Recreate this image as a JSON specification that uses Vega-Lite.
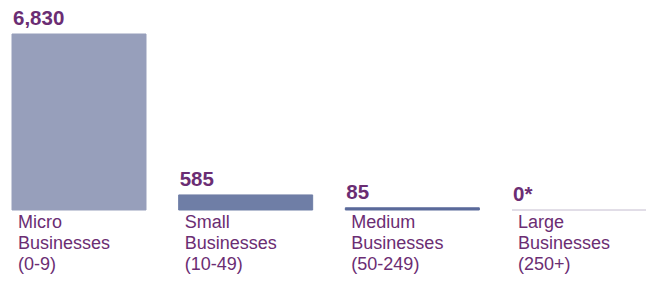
{
  "$schema": "https://vega.github.io/schema/vega-lite/v6.json",
  "width": 634,
  "height": 176,
  "autosize": "none",
  "padding": {"left": 12, "top": 34, "right": 8, "bottom": 71},
  "background": "white",
  "config": {"view": {"stroke": null}, "font": "Liberation Sans"},
  "data": {
    "values": [
      {"cat": "Micro", "value": 6830, "vlabel": "6,830", "label": "Micro\nBusinesses\n(0-9)"},
      {"cat": "Small", "value": 585, "vlabel": "585", "label": "Small\nBusinesses\n(10-49)"},
      {"cat": "Medium", "value": 85, "vlabel": "85", "label": "Medium\nBusinesses\n(50-249)"},
      {"cat": "Large", "value": 0, "vlabel": "0*", "label": "Large\nBusinesses\n(250+)"}
    ]
  },
  "encoding": {
    "x": {"field": "cat", "type": "nominal", "sort": null,
      "scale": {"paddingInner": 0.196, "paddingOuter": 0}, "axis": null}
  },
  "layer": [
    {
      "mark": {"type": "bar", "strokeWidth": 1},
      "encoding": {
        "y": {"field": "value", "type": "quantitative", "scale": {"domain": [0, 6830], "nice": false}, "axis": null},
        "color": {"field": "cat", "type": "nominal", "legend": null,
          "scale": {"domain": ["Micro", "Small", "Medium", "Large"], "range": ["#979fbb", "#6f7ea6", "#5a6a9a", "#d8d2df"]}},
        "stroke": {"field": "cat", "type": "nominal", "legend": null,
          "scale": {"domain": ["Micro", "Small", "Medium", "Large"], "range": ["#979fbb", "#6f7ea6", "#5a6a9a", "#d8d2df"]}}
      }
    },
    {
      "mark": {"type": "text", "align": "left", "baseline": "alphabetic", "dy": -9, "dx": 1, "fontSize": 20.5, "fontWeight": "bold", "color": "#6b2d73"},
      "encoding": {
        "x": {"field": "cat", "type": "nominal", "sort": null, "bandPosition": 0},
        "y": {"field": "value", "type": "quantitative"},
        "text": {"field": "vlabel"}
      }
    },
    {
      "mark": {"type": "text", "align": "left", "baseline": "alphabetic", "dy": 18, "dx": 6, "fontSize": 18, "lineHeight": 21, "lineBreak": "\n", "color": "#6b2d73"},
      "encoding": {
        "x": {"field": "cat", "type": "nominal", "sort": null, "bandPosition": 0},
        "y": {"datum": 0, "type": "quantitative"},
        "text": {"field": "label"}
      }
    }
  ]
}
